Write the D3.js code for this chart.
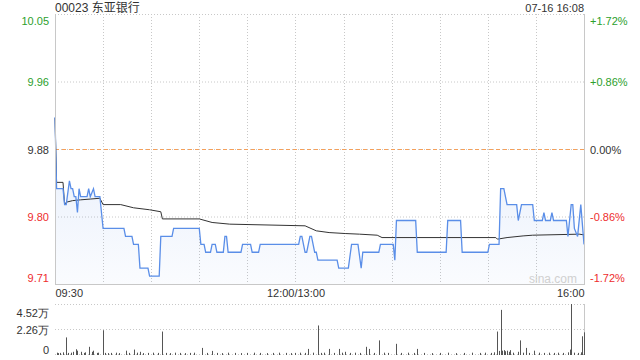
<!DOCTYPE html>
<html><head><meta charset="utf-8">
<script src="https://cdn.jsdelivr.net/npm/d3@7/dist/d3.min.js"></script>
<style>
html,body{margin:0;padding:0;background:#fff;}
svg{display:block;font-family:"Liberation Sans",Arial,"Noto Sans CJK SC",sans-serif;}
</style></head>
<body><svg id="c" width="640" height="360"></svg>
<script>
const title = "00023 东亚银行";
const stamp = "07-16 16:08";
const prevClose = 9.88;
const pctTicks = [1.72, 0.86, 0, -0.86, -1.72];
const priceTickLabels = ["10.05", "9.96", "9.88", "9.80", "9.71"];
const pctTickLabels = ["+1.72%", "+0.86%", "0.00%", "-0.86%", "-1.72%"];
const timeTickMinutes = [0, 150, 330];
const timeTickLabels = ["09:30", "12:00/13:00", "16:00"];
const gridMinutes = [30, 60, 90, 120, 150, 180, 210, 240, 270, 300];

// price line vertices (trading minute since 09:30, price)
const priceMinutes = [0,1,5,6,7,9,10,11,12,13,14,15,16,20,21,22,24,25,28,30,43,44,48,49,52,53,58,59,65,66,73,74,90,91,93,94,97,98,100,101,105,106,107,108,116,117,122,123,127,128,152,153,154,156,157,159,160,162,163,164,176,177,183,185,189,191,192,202,203,211,212,213,225,226,244,245,253,254,270,271,277,278,280,282,288,289,290,291,298,299,304,305,306,309,310,311,319,320,322,323,324,326,328,330];
const prices = [9.92,9.83,9.83,9.81,9.81,9.84,9.83,9.83,9.82,9.82,9.80,9.83,9.82,9.82,9.83,9.82,9.83,9.82,9.82,9.78,9.78,9.77,9.77,9.76,9.76,9.73,9.73,9.72,9.72,9.77,9.77,9.78,9.78,9.76,9.76,9.75,9.75,9.76,9.76,9.75,9.75,9.77,9.77,9.75,9.75,9.76,9.76,9.75,9.75,9.76,9.76,9.77,9.77,9.75,9.75,9.77,9.77,9.75,9.75,9.74,9.74,9.73,9.73,9.76,9.76,9.73,9.75,9.75,9.76,9.76,9.74,9.79,9.79,9.75,9.75,9.79,9.79,9.75,9.75,9.76,9.76,9.83,9.83,9.81,9.81,9.79,9.80,9.81,9.81,9.79,9.79,9.80,9.79,9.79,9.80,9.79,9.79,9.77,9.81,9.81,9.78,9.77,9.81,9.76];

// average price line vertices
const avgMinutes = [0,1,5,6,7,11,16,22,28,30,41,49,59,66,67,90,98,109,156,163,171,181,190,201,204,275,276,282,292,298,327,330];
const avgPrices = [9.919,9.838,9.838,9.810,9.813,9.815,9.816,9.817,9.818,9.810,9.810,9.806,9.8035,9.801,9.792,9.792,9.7875,9.7854,9.7833,9.777,9.7748,9.7736,9.7728,9.7715,9.7685,9.7685,9.7665,9.7685,9.7706,9.7715,9.7728,9.7719];

// volume (万股) per minute
const volMinutes = [1,2,3,5,7,8,10,11,13,14,16,18,19,21,23,24,26,27,30,31,33,35,38,40,44,46,49,51,53,55,58,61,64,67,69,72,75,78,81,84,87,92,95,98,101,104,108,112,116,120,124,128,132,136,140,144,147,150,153,156,158,161,164,166,168,171,174,177,179,181,184,187,190,194,196,199,202,205,208,213,216,220,224,226,230,235,240,245,250,255,260,265,268,272,274,276,277,278,279,280,281,282,283,284,286,289,290,292,294,296,299,302,305,308,311,314,317,320,321,322,324,326,328,329,330];
const volValues = [0.12,0.08,0.1,0.15,1.5,0.1,0.12,0.2,0.43,0.3,0.2,0.1,0.15,0.65,0.2,0.3,0.1,0.12,2.15,0.1,0.08,0.1,0.12,0.08,0.3,0.1,0.4,0.12,0.2,0.08,0.1,0.12,0.1,2.03,0.1,0.08,0.12,0.1,0.08,0.1,0.12,0.55,0.1,0.28,0.1,0.08,0.12,0.1,0.08,0.1,0.12,0.1,0.08,0.1,0.12,0.1,0.08,0.1,0.12,0.1,0.46,0.12,2.58,0.1,0.12,0.46,0.1,0.46,0.12,0.2,0.1,0.12,0.1,0.65,0.46,0.1,1.23,0.12,0.1,0.92,0.1,0.12,0.1,0.46,0.1,0.08,0.1,0.12,0.08,0.1,0.12,0.1,0.12,0.1,0.15,2.03,0.28,3.99,0.3,0.35,0.25,0.3,0.2,0.35,0.12,0.2,1.23,0.12,0.55,0.1,0.3,0.12,0.1,0.12,0.1,0.12,0.1,0.15,0.4,4.52,0.12,0.1,0.15,1.6,1.96];
const volTickValues = [4.52, 2.26, 0];
const volTickLabels = ["4.52万", "2.26万", "0"];

const green = "#2ca02c", red = "#ee2d2d", dark = "#333";
const svg = d3.select("#c");
const L = 55, R = 584, T = 14, B = 284, VT = 304, VB = 354;

const x = d3.scaleLinear().domain([0, 330]).range([L, R]);
const y = d3.scaleLinear().domain([prevClose * (1 - 0.0172), prevClose * (1 + 0.0172)]).range([B, T]);
const yv = d3.scaleLinear().domain([0, 4.52]).range([VB, VT]);
const tickPrice = p => prevClose * (1 + p / 100);
const colorFor = i => pctTicks[i] > 0 ? green : (pctTicks[i] < 0 ? red : dark);

// gradient
const defs = svg.append("defs");
const g = defs.append("linearGradient").attr("id", "fillg")
  .attr("gradientUnits", "userSpaceOnUse").attr("x1", 0).attr("x2", 0).attr("y1", 110).attr("y2", B);
g.append("stop").attr("offset", 0).attr("stop-color", "#5a8ee6").attr("stop-opacity", 0.16);
g.append("stop").attr("offset", 1).attr("stop-color", "#5a8ee6").attr("stop-opacity", 0.03);

// grid lines main
svg.append("g").selectAll("line").data(pctTicks.filter(p => p !== -1.72)).join("line")
  .attr("x1", L).attr("x2", R).attr("y1", d => y(tickPrice(d)) + 0.5).attr("y2", d => y(tickPrice(d)) + 0.5)
  .attr("stroke", "#c8c8c8").attr("stroke-dasharray", "1,2");
svg.append("g").selectAll("line").data(gridMinutes).join("line")
  .attr("x1", d => Math.round(x(d)) + 0.5).attr("x2", d => Math.round(x(d)) + 0.5).attr("y1", T).attr("y2", B)
  .attr("stroke", "#c8c8c8").attr("stroke-dasharray", "1,2");

// area + lines
const pts = priceMinutes.map((m, i) => [m, prices[i]]);
svg.append("path").datum(pts)
  .attr("d", d3.area().x(d => x(d[0])).y0(B).y1(d => y(d[1])))
  .attr("fill", "url(#fillg)");
// prev close dashed
svg.append("line").attr("x1", L).attr("x2", R).attr("y1", Math.round(y(prevClose)) + 0.5).attr("y2", Math.round(y(prevClose)) + 0.5)
  .attr("stroke", "#f5a05a").attr("stroke-dasharray", "4,3");
svg.append("path").datum(avgMinutes.map((m, i) => [m, avgPrices[i]]))
  .attr("d", d3.line().x(d => x(d[0])).y(d => y(d[1])))
  .attr("fill", "none").attr("stroke", "#333").attr("stroke-width", 1);
svg.append("path").datum(pts)
  .attr("d", d3.line().x(d => x(d[0])).y(d => y(d[1])))
  .attr("fill", "none").attr("stroke", "#5a8ee8").attr("stroke-width", 1.3);

// watermark
svg.append("text").attr("x", 553).attr("y", 283).attr("text-anchor", "middle")
  .attr("font-size", 12).attr("fill", "#d0d0d0").text("sina.com");

// borders
svg.append("line").attr("x1", L + 0.5).attr("x2", L + 0.5).attr("y1", T).attr("y2", B).attr("stroke", "#c8c8c8");
svg.append("line").attr("x1", R + 0.5).attr("x2", R + 0.5).attr("y1", T).attr("y2", B).attr("stroke", "#c8c8c8");
svg.append("line").attr("x1", L).attr("x2", R + 1).attr("y1", B + 0.5).attr("y2", B + 0.5).attr("stroke", "#c8c8c8");

// left price axis
const axL = svg.append("g").attr("transform", `translate(${L - 3},0)`)
  .call(d3.axisLeft(y).tickValues(pctTicks.map(tickPrice)).tickSize(0).tickFormat((d, i) => priceTickLabels[i]));
axL.select(".domain").remove();
axL.selectAll("text").attr("font-size", 11).attr("font-family", null).attr("dy", null)
  .attr("dominant-baseline", "central")
  .attr("fill", (d, i) => colorFor(i))
  .attr("y", (d, i) => i === 0 ? 6 : (i === pctTicks.length - 1 ? -7 : 0));

// right pct axis
const axR = svg.append("g").attr("transform", `translate(${R + 3},0)`)
  .call(d3.axisRight(y).tickValues(pctTicks.map(tickPrice)).tickSize(0).tickFormat((d, i) => pctTickLabels[i]));
axR.select(".domain").remove();
axR.selectAll("text").attr("font-size", 11).attr("font-family", null).attr("dy", null)
  .attr("dominant-baseline", "central")
  .attr("fill", (d, i) => colorFor(i))
  .attr("y", (d, i) => i === 0 ? 6 : (i === pctTicks.length - 1 ? -7 : 0));

// time axis
const axB = svg.append("g").attr("transform", `translate(0,${B})`)
  .call(d3.axisBottom(x).tickValues(timeTickMinutes).tickSize(0).tickFormat((d, i) => timeTickLabels[i]));
axB.select(".domain").remove();
axB.selectAll("text").attr("font-size", 11).attr("font-family", null).attr("fill", dark)
  .attr("dy", null).attr("y", 13)
  .attr("text-anchor", (d, i) => i === 0 ? "start" : (i === timeTickMinutes.length - 1 ? "end" : "middle"));

// volume panel
svg.append("g").selectAll("line").data(volTickValues).join("line")
  .attr("x1", L).attr("x2", R).attr("y1", d => Math.round(yv(d)) + 0.5).attr("y2", d => Math.round(yv(d)) + 0.5)
  .attr("stroke", "#c8c8c8").attr("stroke-dasharray", "1,2");
svg.append("line").attr("x1", R + 0.5).attr("x2", R + 0.5).attr("y1", VT).attr("y2", VB + 1).attr("stroke", "#c8c8c8");
svg.append("g").selectAll("rect").data(volMinutes.map((m, i) => [m, volValues[i]])).join("rect")
  .attr("x", d => Math.round(x(d[0]))).attr("width", 1)
  .attr("y", d => yv(d[1])).attr("height", d => VB + 1 - yv(d[1]))
  .attr("fill", "#555");
const axV = svg.append("g").attr("transform", `translate(${L - 3},0)`)
  .call(d3.axisLeft(yv).tickValues(volTickValues).tickSize(0).tickFormat((d, i) => volTickLabels[i]));
axV.select(".domain").remove();
axV.selectAll("text").attr("font-size", 11).attr("font-family", null).attr("dy", null)
  .attr("dominant-baseline", "central").attr("fill", dark)
  .attr("y", (d, i) => i === 0 ? 8 : (i === volTickValues.length - 1 ? -5 : 0));

// header
svg.append("text").attr("x", L).attr("y", 12).attr("font-size", 12).attr("fill", dark).text(title);
svg.append("text").attr("x", R).attr("y", 12).attr("font-size", 11).attr("fill", dark).attr("text-anchor", "end").text(stamp);
</script></body></html>
